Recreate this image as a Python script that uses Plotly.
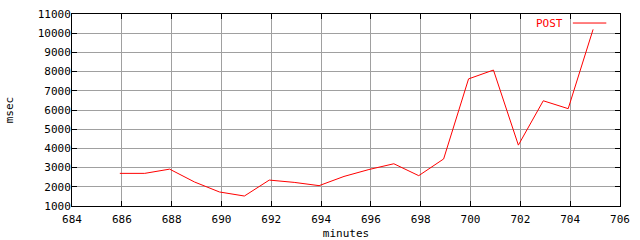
import plotly.graph_objects as go

minutes = [685.92 + k for k in range(20)]
msec = [2700, 2700, 2920, 2250, 1730, 1520, 2350, 2230, 2060, 2540,
        2900, 3200, 2580, 3450, 7620, 8080, 4170, 6480, 6070, 10200]
series_name = "POST"
x_ticks = list(range(684, 707, 2))
y_ticks = list(range(1000, 11001, 1000))

FONT = "DejaVu Sans Mono"

fig = go.Figure()
fig.add_trace(go.Scatter(x=minutes, y=msec, mode="lines", name=series_name,
                         line=dict(color="#ff0000", width=1), showlegend=False))

axis_common = dict(showline=True, linecolor="black", linewidth=1, mirror="allticks",
                   ticks="inside", ticklen=5, tickcolor="black", tickwidth=1,
                   showgrid=True, gridcolor="#a0a0a0", gridwidth=1, zeroline=False,
                   automargin=False,
                   tickfont=dict(family=FONT, size=11, color="black"))

fig.update_xaxes(range=[684, 706], tickvals=x_ticks, ticktext=[str(v) for v in x_ticks],
                 ticklabelstandoff=3,
                 title=dict(text="minutes", font=dict(family=FONT, size=11, color="black"), standoff=4),
                 **axis_common)
fig.update_yaxes(range=[1000, 11000], tickvals=y_ticks, ticktext=[str(v) for v in y_ticks],
                 ticklabelstandoff=-2,
                 title=dict(text="msec", font=dict(family=FONT, size=11, color="black"), standoff=21),
                 **axis_common)

# legend in gnuplot style: label left, sample line right
fig.add_annotation(x=0.9, y=0.953, xref="paper", yref="paper", text=series_name,
                   showarrow=False, xanchor="right", yanchor="middle",
                   font=dict(family=FONT, size=11, color="#ff0000"))
fig.add_shape(type="line", xref="paper", yref="paper", x0=0.914, x1=0.975, y0=0.953, y1=0.953,
              line=dict(color="#ff0000", width=1))

fig.update_layout(width=640, height=240, margin=dict(l=72, r=20, t=14, b=34),
                  paper_bgcolor="white", plot_bgcolor="white",
                  font=dict(family=FONT, size=11, color="black"))

fig.write_html("out.html")
